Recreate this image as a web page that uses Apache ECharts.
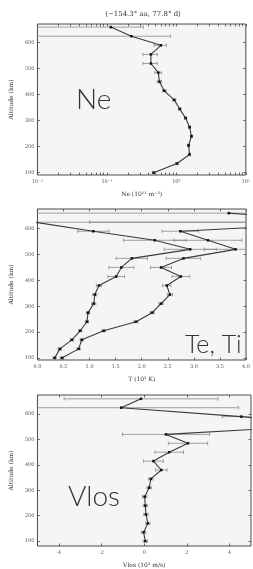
<!DOCTYPE html>
<html>
<head>
<meta charset="utf-8">
<script src="https://cdn.jsdelivr.net/npm/echarts@6/dist/echarts.min.js"></script>
<style>
  html, body { margin: 0; padding: 0; background: #fff; }
  #chart { width: 253px; height: 569px; }
</style>
</head>
<body>
<div id="chart"></div>
<script>
// altitude bins shared by the three profiles (km)
const altitudes = [100, 135, 170, 205, 240, 275, 310, 345, 380, 415, 450, 485, 520, 555, 590, 625, 660];

// Ne (10^11 m^-3) and its 1-sigma error
const neValues = [0.47, 1.02, 1.55, 1.5, 1.65, 1.55, 1.36, 1.12, 0.93, 0.67, 0.57, 0.55, 0.43, 0.43, 0.6, 0.225, 0.114];
const neErrors = [0.02, 0.04, 0.05, 0.05, 0.05, 0.05, 0.05, 0.05, 0.05, 0.04, 0.04, 0.06, 0.1, 0.1, 0.12, 0.6, 0.22];

// Te, Ti (10^3 K)
const teValues = [0.47, 0.79, 0.85, 1.27, 1.89, 2.2, 2.37, 2.54, 2.48, 2.75, 2.37, 2.8, 3.8, 3.27, 2.74, 6.0, 3.67];
const teErrors = [0.03, 0.03, 0.03, 0.03, 0.04, 0.04, 0.04, 0.05, 0.08, 0.17, 0.2, 0.33, 0.6, 0.65, 0.35, 5, 4];
const tiValues = [0.33, 0.43, 0.66, 0.82, 0.95, 0.97, 1.08, 1.1, 1.18, 1.51, 1.61, 1.81, 2.93, 2.25, 1.07, -0.05, -2.0];
const tiErrors = [0.03, 0.03, 0.03, 0.03, 0.03, 0.03, 0.04, 0.04, 0.05, 0.16, 0.24, 0.3, 0.5, 0.6, 0.3, 5, 0.5];

// Vlos (10^2 m/s)
const vlosValues = [0.05, -0.03, 0.17, 0.08, 0.05, 0.02, 0.23, 0.31, 0.8, 0.43, 1.17, 2.05, 1.02, 8.4, 4.55, -1.08, -0.15];
const vlosErrors = [0.1, 0.1, 0.1, 0.1, 0.1, 0.1, 0.1, 0.1, 0.27, 0.46, 0.67, 0.92, 2.04, 2.0, 0.9, 5.5, 3.6];

// ticks
const altTicks = [100, 200, 300, 400, 500, 600];
const neTicks = [0.01, 0.1, 1, 10];
const neTickText = ['10⁻²', '10⁻¹', '10⁰', '10¹'];
const tTicks = [0, 0.5, 1, 1.5, 2, 2.5, 3, 3.5, 4];
const vlosTicks = [-4, -2, 0, 2, 4];
const neMinorTicks = [];
[0.01, 0.1, 1].forEach((d) => {
  for (let k = 1; k <= 9; k++) neMinorTicks.push(d * k);
});
neMinorTicks.push(10);

const frameColor = '#4a4a4a';
const labelFont = 'DejaVu Serif';

const grids = [
  { left: 36, top: 24, width: 215, height: 151 },
  { left: 36, top: 209, width: 215, height: 151 },
  { left: 36, top: 395, width: 215, height: 153 },
];
const altRanges = [
  [91, 672],
  [92, 676],
  [81, 675],
];

function tickStyle(values) {
  return {
    show: true,
    inside: true,
    length: 2.5,
    customValues: values,
    lineStyle: { color: frameColor, width: 0.8 },
  };
}

// no axis lines (the grid border is the frame); keep ticks on the frame, not at zero
const hiddenLine = { show: false, onZero: false };

function xAxisPair(gridIndex, base, name, tickValues, labelValues, formatter) {
  const bottom = {
    gridIndex,
    ...base,
    position: 'bottom',
    name,
    nameLocation: 'middle',
    nameGap: 16,
    nameTextStyle: { fontFamily: labelFont, fontSize: 6, color: '#333' },
    axisLine: hiddenLine,
    axisTick: tickStyle(tickValues),
    splitLine: { show: false },
    axisLabel: {
      customValues: labelValues,
      formatter,
      margin: 4,
      fontFamily: labelFont,
      fontSize: 5,
      color: '#555',
      hideOverlap: false,
      showMinLabel: true,
      showMaxLabel: true,
    },
  };
  const top = {
    gridIndex,
    ...base,
    position: 'top',
    axisLine: hiddenLine,
    axisTick: tickStyle(tickValues),
    axisLabel: { show: false },
    splitLine: { show: false },
  };
  return [bottom, top];
}

function yAxisPair(gridIndex) {
  const [min, max] = altRanges[gridIndex];
  const base = { type: 'value', min, max, gridIndex, splitLine: { show: false }, axisLine: hiddenLine };
  return [
    {
      ...base,
      position: 'left',
      name: 'Altitude (km)',
      nameLocation: 'middle',
      nameGap: 21,
      nameTextStyle: { fontFamily: labelFont, fontSize: 6, color: '#333' },
      axisTick: tickStyle(altTicks),
      axisLabel: {
        customValues: altTicks,
        margin: 3,
        fontFamily: labelFont,
        fontSize: 5,
        color: '#555',
      },
    },
    {
      ...base,
      position: 'right',
      axisTick: tickStyle(altTicks),
      axisLabel: { show: false },
    },
  ];
}

// horizontal error bar with caps, clipped to the grid
function renderErrorBar(params, api) {
  const cs = params.coordSys;
  const lo = api.value(0);
  const hi = api.value(1);
  const alt = api.value(2);
  const pHi = api.coord([hi, alt]);
  const pLo = api.coord([lo, alt]);
  const y = pHi[1];
  const xLo = isNaN(pLo[0]) ? -Infinity : pLo[0];
  const xHi = pHi[0];
  const left = cs.x;
  const right = cs.x + cs.width;
  const x1 = Math.max(xLo, left);
  const x2 = Math.min(xHi, right);
  if (x2 < left || x1 > right) return null;
  const style = { stroke: '#8a8a8a', lineWidth: 0.8 };
  const children = [
    { type: 'line', shape: { x1, y1: y, x2, y2: y }, style },
  ];
  if (xLo >= left) children.push({ type: 'line', shape: { x1: xLo, y1: y - 1.8, x2: xLo, y2: y + 1.8 }, style });
  if (xHi <= right) children.push({ type: 'line', shape: { x1: xHi, y1: y - 1.8, x2: xHi, y2: y + 1.8 }, style });
  return { type: 'group', children };
}

function profileSeries(axisIndex, values, errors, isLog) {
  const floor = isLog ? 1e-6 : -Infinity;
  return [
    {
      type: 'custom',
      xAxisIndex: axisIndex,
      yAxisIndex: axisIndex,
      renderItem: renderErrorBar,
      encode: { x: [0, 1], y: 2 },
      data: altitudes.map((a, i) => [Math.max(values[i] - errors[i], floor), values[i] + errors[i], a]),
      z: 2,
      silent: true,
    },
    {
      type: 'line',
      xAxisIndex: axisIndex,
      yAxisIndex: axisIndex,
      data: altitudes.map((a, i) => [values[i], a]),
      symbol: 'rect',
      symbolSize: 2.5,
      clip: true,
      lineStyle: { color: '#3a3a3a', width: 1.1 },
      itemStyle: { color: '#111' },
      z: 3,
    },
  ];
}

const option = {
  animation: false,
  backgroundColor: '#fff',
  grid: grids.map((g) => ({
    ...g,
    show: true,
    backgroundColor: '#f5f5f5',
    borderColor: frameColor,
    borderWidth: 1,
  })),
  xAxis: [
    ...xAxisPair(0, { type: 'log', logBase: 10, min: 0.01, max: 10 }, 'Ne (10¹¹ m⁻³)', neMinorTicks, neTicks,
      (v) => neTickText[neTicks.findIndex((t) => Math.abs(Math.log10(t) - Math.log10(v)) < 0.01)] || ''),
    ...xAxisPair(1, { type: 'value', min: 0, max: 4 }, 'T (10³ K)', tTicks, tTicks, (v) => v.toFixed(1)),
    ...xAxisPair(2, { type: 'value', min: -5, max: 5 }, 'Vlos (10² m/s)', vlosTicks, vlosTicks, (v) => String(v)),
  ],
  yAxis: [...yAxisPair(0), ...yAxisPair(1), ...yAxisPair(2)],
  series: [
    ...profileSeries(0, neValues, neErrors, true),
    ...profileSeries(2, teValues, teErrors, false),
    ...profileSeries(2, tiValues, tiErrors, false),
    ...profileSeries(4, vlosValues, vlosErrors, false),
  ],
  graphic: [
    {
      type: 'text',
      style: {
        x: 143, y: 14, text: '(−154.3° aa, 77.8° d)',
        font: '7px "DejaVu Serif"', fill: '#333', align: 'center', verticalAlign: 'middle',
      },
    },
    {
      type: 'text',
      style: { x: 76, y: 100, text: 'Ne', font: '300 28px Lato', fill: '#333', verticalAlign: 'middle' },
      z: 10,
    },
    {
      type: 'text',
      style: { x: 185, y: 345, text: 'Te, Ti', font: '300 25px Lato', fill: '#333', verticalAlign: 'middle' },
      z: 10,
    },
    {
      type: 'text',
      style: { x: 68, y: 497, text: 'Vlos', font: '300 28px Lato', fill: '#333', verticalAlign: 'middle' },
      z: 10,
    },
  ],
};

const chart = echarts.init(document.getElementById('chart'), null, { renderer: 'canvas' });
chart.setOption(option);
</script>
</body>
</html>
